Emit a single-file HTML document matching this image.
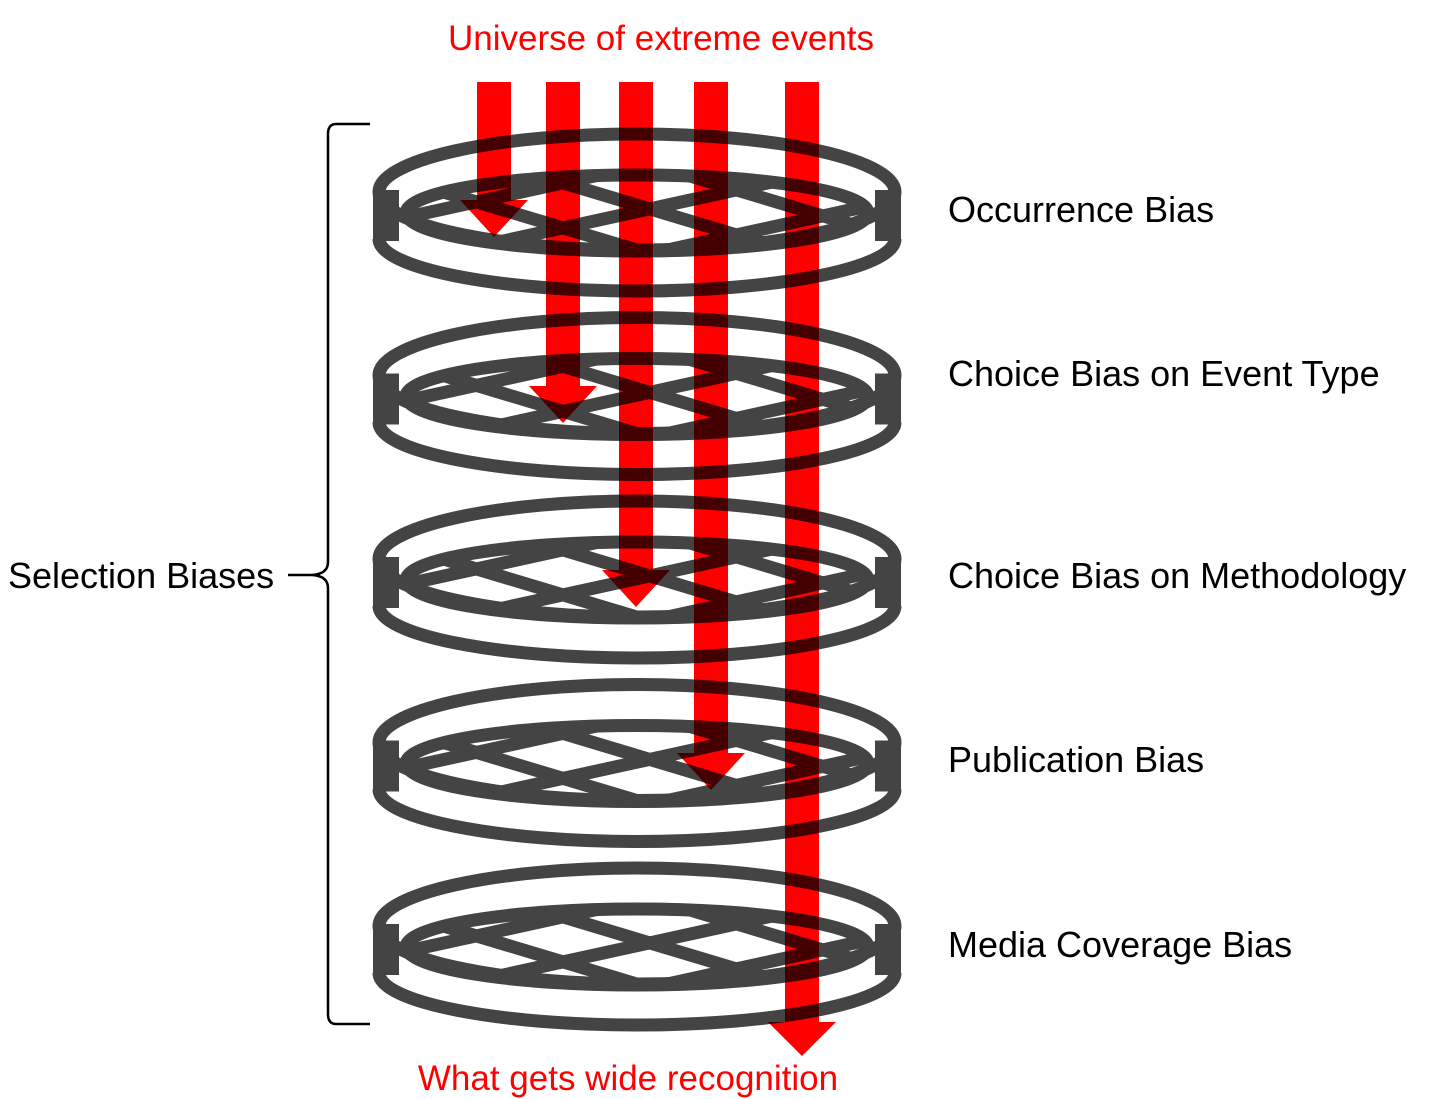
<!DOCTYPE html>
<html><head><meta charset="utf-8"><style>
html,body{margin:0;padding:0;background:#fff;width:1456px;height:1099px;overflow:hidden}
svg{display:block}
text{font-family:"Liberation Sans",sans-serif}
</style></head><body>
<svg width="1456" height="1099" viewBox="0 0 1456 1099" xmlns="http://www.w3.org/2000/svg">
<defs>
<clipPath id="mc" clipPathUnits="userSpaceOnUse"><ellipse cx="637" cy="85" rx="228" ry="37"/></clipPath>
<g id="sieve">
  <path d="M373 62 L399 62 L399 113 L373 113 Z" fill="#444"/>
  <path d="M875 62 L901 62 L901 113 L875 113 Z" fill="#444"/>
  <path d="M379 111 A258 52 0 0 0 895 111" fill="none" stroke="#444" stroke-width="13"/>
  <ellipse cx="637" cy="64" rx="258" ry="58" fill="none" stroke="#444" stroke-width="13"/>
  <g clip-path="url(#mc)" stroke="#444" stroke-width="13">
    <line x1="380" y1="0" x2="900" y2="156"/>
    <line x1="380" y1="45" x2="900" y2="201"/>
    <line x1="380" y1="-45" x2="900" y2="111"/>
    <line x1="380" y1="-90" x2="900" y2="66"/>
    <line x1="380" y1="140" x2="900" y2="26"/>
    <line x1="380" y1="185" x2="900" y2="71"/>
    <line x1="380" y1="95" x2="900" y2="-19"/>
    <line x1="380" y1="230" x2="900" y2="116"/>
  </g>
  <ellipse cx="637" cy="85" rx="231" ry="38" fill="none" stroke="#444" stroke-width="13"/>
</g>
</defs>
<g fill="#ff0000">
  <rect x="477" y="82" width="34" height="120"/><polygon points="460,200 528,200 494,237"/>
  <rect x="546" y="82" width="34" height="306"/><polygon points="529,386 597,386 563,423"/>
  <rect x="619" y="82" width="34" height="490"/><polygon points="602,570 670,570 636,607"/>
  <rect x="694" y="82" width="34" height="673"/><polygon points="677,753 745,753 711,790"/>
  <rect x="785" y="82" width="34" height="942"/><polygon points="768,1022 836,1022 802,1056"/>
</g>
<g style="mix-blend-mode:multiply">
  <use href="#sieve" transform="translate(0,128)"/>
  <use href="#sieve" transform="translate(0,311.5)"/>
  <use href="#sieve" transform="translate(0,495)"/>
  <use href="#sieve" transform="translate(0,678.5)"/>
  <use href="#sieve" transform="translate(0,862)"/>
</g>
<path d="M370 124 L336 124 Q328 124 328 134 L328 562 Q328 574 312 575 L288 575 M312 575 Q328 576 328 588 L328 1014 Q328 1024 336 1024 L370 1024" fill="none" stroke="#000" stroke-width="2.5"/>
<text x="661" y="50" font-size="35" fill="#ff0000" text-anchor="middle">Universe of extreme events</text>
<text x="628" y="1090" font-size="35" fill="#ff0000" text-anchor="middle">What gets wide recognition</text>
<text x="8" y="588" font-size="36" fill="#000">Selection Biases</text>
<g font-size="36" fill="#000">
<text x="948" y="222">Occurrence Bias</text>
<text x="948" y="386">Choice Bias on Event Type</text>
<text x="948" y="588">Choice Bias on Methodology</text>
<text x="948" y="772">Publication Bias</text>
<text x="948" y="957">Media Coverage Bias</text>
</g>
</svg>
</body></html>
